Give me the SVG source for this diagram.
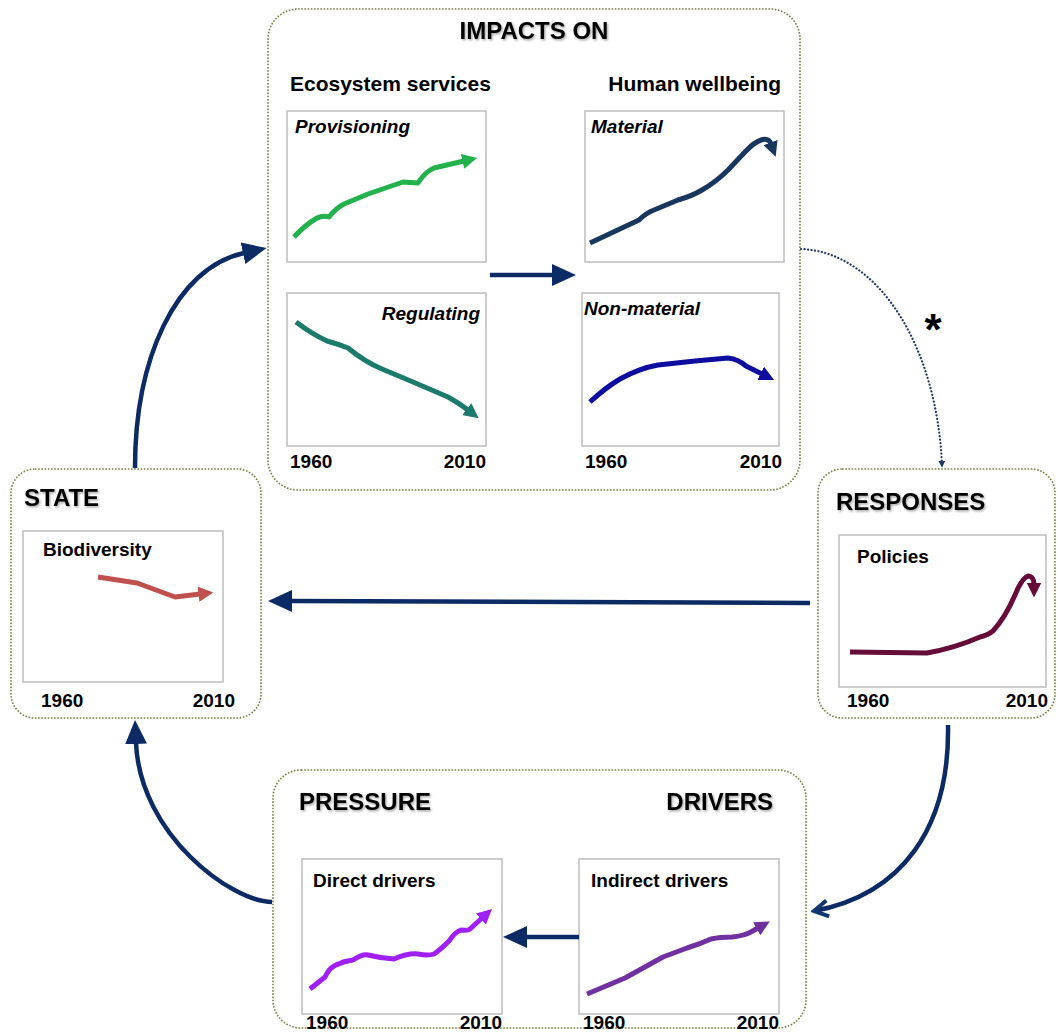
<svg xmlns="http://www.w3.org/2000/svg" width="1058" height="1032" viewBox="0 0 1058 1032">
<style>
.frame{fill:#fff;stroke:#7d7d48;stroke-width:1.6;stroke-dasharray:1.6 1.6}
.chart{fill:#fff;stroke:#bdbdbd;stroke-width:1.5}
.h1{font-family:"Liberation Sans",Arial,sans-serif;font-weight:bold;font-size:24px;fill:#000;filter:url(#shadow)}
.h2{font-family:"Liberation Sans",Arial,sans-serif;font-weight:bold;font-size:21px;fill:#000}
.lbl{font-family:"Liberation Sans",Arial,sans-serif;font-weight:bold;font-size:19px;fill:#000}
.it{font-style:italic}
.yr{font-family:"Liberation Sans",Arial,sans-serif;font-weight:bold;font-size:19px;fill:#000}
.end{text-anchor:end}
.trend{fill:none;stroke-width:5;stroke-linejoin:round;stroke-linecap:butt}
.conn{fill:none;stroke:#0c2a63;stroke-width:4.5}
</style>
<defs>
<filter id="shadow" x="-10%" y="-30%" width="120%" height="160%">
<feDropShadow dx="1.2" dy="1.5" stdDeviation="1" flood-color="#000" flood-opacity="0.35"/>
</filter>
<marker id="mGreen" viewBox="0 0 10 10" refX="1" refY="5" markerWidth="3" markerHeight="3" orient="auto"><path d="M0,0 L10,5 L0,10 z" fill="#22b14c"/></marker>
<marker id="mNavy" viewBox="0 0 10 10" refX="1" refY="5" markerWidth="3" markerHeight="3" orient="auto"><path d="M0,0 L10,5 L0,10 z" fill="#17375e"/></marker>
<marker id="mTeal" viewBox="0 0 10 10" refX="1" refY="5" markerWidth="3" markerHeight="3" orient="auto"><path d="M0,0 L10,5 L0,10 z" fill="#1b7a6c"/></marker>
<marker id="mBlue" viewBox="0 0 10 10" refX="1" refY="5" markerWidth="3" markerHeight="3" orient="auto"><path d="M0,0 L10,5 L0,10 z" fill="#0d0da0"/></marker>
<marker id="mRed" viewBox="0 0 10 10" refX="1" refY="5" markerWidth="3" markerHeight="3" orient="auto"><path d="M0,0 L10,5 L0,10 z" fill="#c0504d"/></marker>
<marker id="mMaroon" viewBox="0 0 10 10" refX="1" refY="5" markerWidth="3" markerHeight="3" orient="auto"><path d="M0,0 L10,5 L0,10 z" fill="#650c38"/></marker>
<marker id="mViolet" viewBox="0 0 10 10" refX="1" refY="5" markerWidth="3" markerHeight="3" orient="auto"><path d="M0,0 L10,5 L0,10 z" fill="#a01ff5"/></marker>
<marker id="mPurple" viewBox="0 0 10 10" refX="1" refY="5" markerWidth="3" markerHeight="3" orient="auto"><path d="M0,0 L10,5 L0,10 z" fill="#7030a0"/></marker>
<marker id="mBig" viewBox="0 0 24 22" refX="1" refY="11" markerWidth="24" markerHeight="22" markerUnits="userSpaceOnUse" orient="auto"><path d="M0,0 L24,11 L0,22 z" fill="#0c2a63"/></marker>
<marker id="mOpen" viewBox="0 0 20 20" refX="17" refY="10" markerWidth="20" markerHeight="20" markerUnits="userSpaceOnUse" orient="auto"><path d="M3,2 L17,10 L3,18" fill="none" stroke="#12386f" stroke-width="4" stroke-linejoin="miter"/></marker>
<marker id="mSmall" viewBox="0 0 10 10" refX="9" refY="5" markerWidth="7" markerHeight="7" markerUnits="userSpaceOnUse" orient="auto"><path d="M0,0 L10,5 L0,10 z" fill="#1f3864"/></marker>
</defs>
<rect width="1058" height="1032" fill="#fff"/>

<g id="impacts-on">
<rect class="frame" x="268" y="9" width="532" height="481" rx="30"/>
<text class="h1" x="534" y="39" text-anchor="middle">IMPACTS ON</text>
<text class="h2" x="290" y="91">Ecosystem services</text>
<text class="h2 end" x="781" y="91">Human wellbeing</text>
<g id="provisioning">
<rect class="chart" x="287" y="111" width="199" height="151"/>
<text class="lbl it" x="295" y="133">Provisioning</text>
<path class="trend" stroke="#22b14c" marker-end="url(#mGreen)" d="M294,237 Q305,225 317,218 Q323,215 329,217 Q336,208 344,204 L368,194 L403,182 L418,183 Q425,172 434,168 L464,161"/>
</g>
<g id="material">
<rect class="chart" x="585" y="111" width="199" height="151"/>
<text class="lbl it" x="591" y="133">Material</text>
<path class="trend" stroke="#17375e" marker-end="url(#mNavy)" d="M590,243 L639,220 Q646,213 654,210 L678,200 Q692,196 702,190 Q716,182 728,170 L745,152 C758,138 768,136 771,144"/>
</g>
<g id="regulating">
<rect class="chart" x="287" y="293" width="199" height="153"/>
<text class="lbl it end" x="480" y="320">Regulating</text>
<path class="trend" stroke="#1b7a6c" marker-end="url(#mTeal)" d="M296,322 Q312,334 327,341 Q338,344 348,348 Q365,362 382,369 L413,382 L448,397 Q459,403 468,410"/>
<text class="yr" x="290" y="468">1960</text>
<text class="yr end" x="486" y="468">2010</text>
</g>
<g id="non-material">
<rect class="chart" x="582" y="293" width="197" height="153"/>
<text class="lbl it" x="584" y="315">Non-material</text>
<path class="trend" stroke="#0d0da0" marker-end="url(#mBlue)" d="M590,402 Q605,388 620,379 Q640,368 658,365 L695,361 L728,358 Q738,359 746,366 L762,374"/>
<text class="yr" x="585" y="468">1960</text>
<text class="yr end" x="782" y="468">2010</text>
</g>
</g>

<g id="state">
<rect class="frame" x="11" y="469" width="250" height="249" rx="24"/>
<text class="h1" x="24" y="506">STATE</text>
<g id="biodiversity">
<rect class="chart" x="23" y="531" width="200" height="151"/>
<text class="lbl" x="43" y="556">Biodiversity</text>
<path class="trend" stroke="#c0504d" marker-end="url(#mRed)" d="M98,577 L137,583 L175,597 L200,594"/>
</g>
<text class="yr" x="41" y="707">1960</text>
<text class="yr end" x="235" y="707">2010</text>
</g>

<g id="responses">
<rect class="frame" x="818" y="469" width="237" height="249" rx="24"/>
<text class="h1" x="836" y="510">RESPONSES</text>
<g id="policies">
<rect class="chart" x="839" y="535" width="207" height="152"/>
<text class="lbl" x="857" y="563">Policies</text>
<path class="trend" stroke="#650c38" marker-end="url(#mMaroon)" d="M850,652 L927,653 Q955,648 980,637 Q988,635 993,631 Q1005,618 1015,595 Q1022,578 1028,576 C1032,576 1034,580 1034,584"/>
</g>
<text class="yr" x="847" y="707">1960</text>
<text class="yr end" x="1048" y="707">2010</text>
</g>

<g id="pressure-drivers">
<rect class="frame" x="273" y="770" width="533" height="258" rx="28"/>
<text class="h1" x="299" y="810">PRESSURE</text>
<text class="h1 end" x="773" y="810">DRIVERS</text>
<g id="direct-drivers">
<rect class="chart" x="302" y="859" width="200" height="155"/>
<text class="lbl" x="313" y="887">Direct drivers</text>
<path class="trend" stroke="#a01ff5" marker-end="url(#mViolet)" d="M310,989 L325,977 Q329,968 336,965 Q344,961 353,960 Q362,954 368,955 Q380,958 394,959 Q408,953 418,954 Q428,956 434,954 Q440,950 449,941 Q455,932 461,930 Q468,931 470,929 L482,918"/>
<text class="yr" x="306" y="1029">1960</text>
<text class="yr end" x="502" y="1029">2010</text>
</g>
<g id="indirect-drivers">
<rect class="chart" x="579" y="859" width="200" height="155"/>
<text class="lbl" x="591" y="887">Indirect drivers</text>
<path class="trend" stroke="#7030a0" marker-end="url(#mPurple)" d="M587,994 L625,978 L663,957 L687,948 Q700,944 711,939 Q720,937 732,937 Q742,936 749,933 L758,928"/>
<text class="yr" x="583" y="1029">1960</text>
<text class="yr end" x="779" y="1029">2010</text>
</g>
</g>

<g id="connectors">
<path class="conn" stroke-width="5" marker-end="url(#mBig)" d="M490,275 L553,275"/>
<path class="conn" marker-end="url(#mBig)" d="M579,937 L526,937"/>
<path class="conn" marker-end="url(#mBig)" d="M135,468 C135,360 175,268 244,253"/>
<path class="conn" marker-end="url(#mBig)" d="M810,603 L291,601"/>
<path class="conn" marker-end="url(#mBig)" d="M272,902 C232,902 140,835 136,743"/>
<path class="conn" stroke="#12386f" marker-end="url(#mOpen)" d="M948,725 C950,830 900,895 814,911"/>
<path fill="none" stroke="#1f3864" stroke-width="2.2" stroke-linecap="round" stroke-dasharray="0.1 3.4" marker-end="url(#mSmall)" d="M801,249 C880,252 938,350 942,467"/>
<text x="933" y="345" text-anchor="middle" font-family="Liberation Sans, Arial, sans-serif" font-weight="bold" font-size="44">*</text>
</g>
</svg>
